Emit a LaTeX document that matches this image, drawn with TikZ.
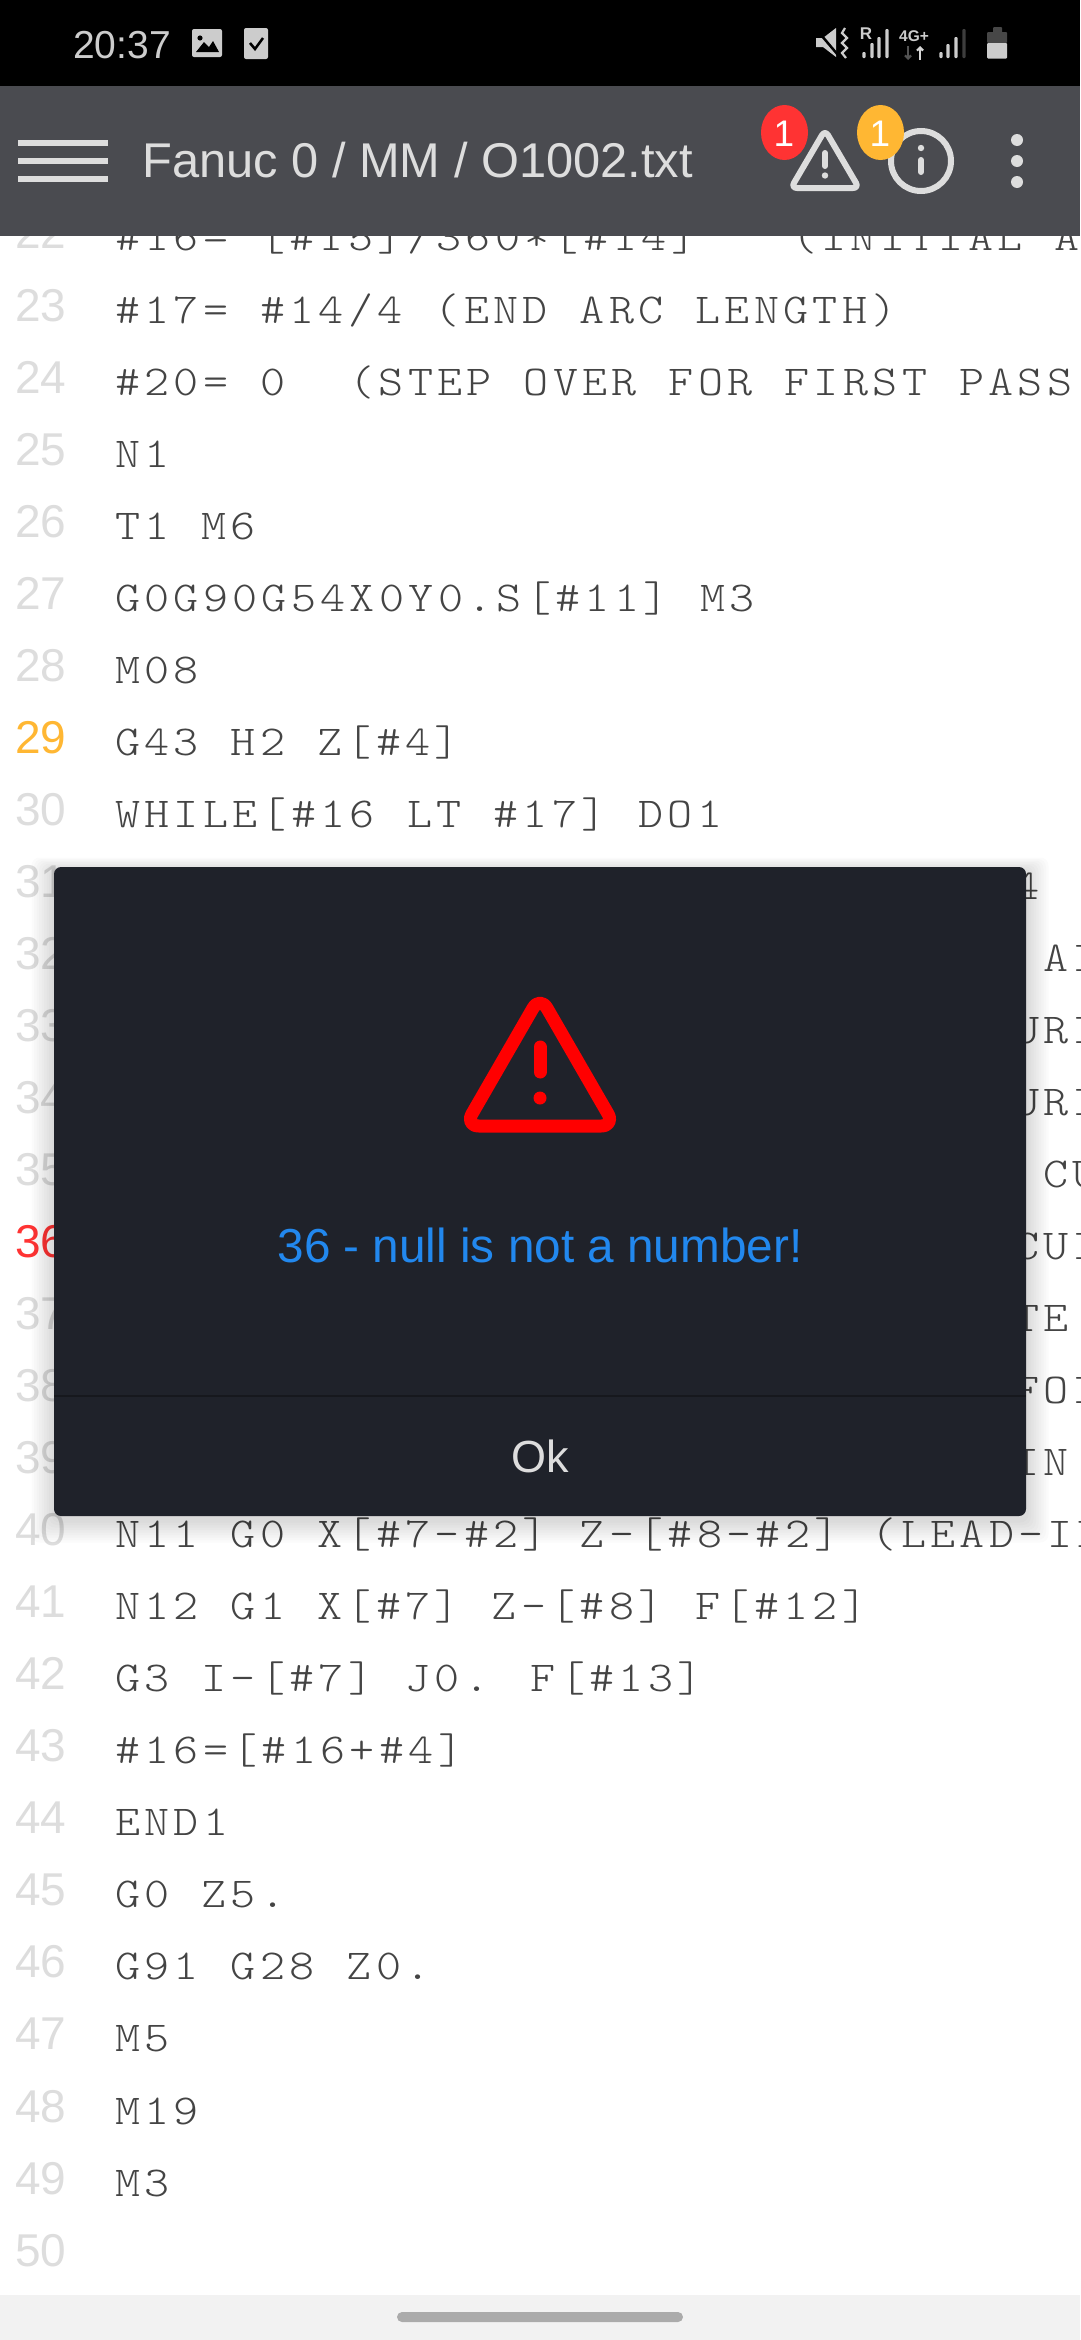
\documentclass[tikz,border=0pt]{standalone}
\usepackage{fontspec}
\usetikzlibrary{arrows.meta}
\setmainfont{Liberation Sans}
\newfontfamily\codefont[LetterSpace=10.1,FakeStretch=1.12,WordSpace=1.09]{Latin Modern Mono Light}
\newfontfamily\uifont{Liberation Sans}
\definecolor{hdr}{HTML}{4A4B50}
\definecolor{dlg}{HTML}{1F222A}
\definecolor{ltg}{HTML}{DDDDDD}
\definecolor{stat}{HTML}{CCCCCC}
\definecolor{cod}{HTML}{444444}
\definecolor{warnred}{HTML}{FF3333}
\definecolor{warnor}{HTML}{FFB733}
\definecolor{msg}{HTML}{2288EE}
\tikzset{
  codetxt/.style={anchor=base west,inner sep=0pt,text=cod,font=\codefont\fontsize{42.6}{44}\selectfont},
  numtxt/.style={anchor=base west,inner sep=0pt,text=ltg,font=\uifont\fontsize{46}{48}\selectfont},
  uitxt/.style={inner sep=0pt,font=\uifont\fontsize{45}{47}\selectfont},
  badge/.style={inner sep=0pt,text=white,font=\uifont\fontsize{37}{39}\selectfont,anchor=base},
}
\newcommand\cl[2]{\node[codetxt] (c#1) at (115,{323+72.04*(#1-23)}) {#2};}
\newcommand\cx[3]{\node[codetxt] (x#1) at ({115+29*#2},{323+72.04*(#1-23)}) {#3};}
\begin{document}
\begin{tikzpicture}[x=1pt,y=-1pt]
\useasboundingbox (0,0) rectangle (1080,2340);
\fill[white] (0,0) rectangle (1080,2340);
% line numbers
\foreach \n in {22,...,50}{
  \pgfmathsetmacro\yy{321+72.04*(\n-23)}
  \ifnum\n=29 \def\cc{warnor}\else\ifnum\n=36 \def\cc{warnred}\else\def\cc{ltg}\fi\fi
  \node[numtxt,text=\cc] (n\n) at (15,\yy) {\n};
}
% code
\cl{22}{\#16= [\#15]/360*[\#14]\ \ \ (INITIAL AI}
\cl{23}{\#17= \#14/4 (END ARC LENGTH)}
\cl{24}{\#20= 0\ \ (STEP OVER FOR FIRST PASS}
\cl{25}{N1}
\cl{26}{T1 M6}
\cl{27}{G0G90G54X0Y0.S[\#11] M3}
\cl{28}{M08}
\cl{29}{G43 H2 Z[\#4]}
\cl{30}{WHILE[\#16 LT \#17] DO1}
\cx{31}{31}{4}
\cx{32}{32}{AI}
\cx{33}{31}{URI}
\cx{34}{31}{URI}
\cx{35}{32}{CU}
\cx{36}{31}{CUI}
\cx{37}{31}{TE}
\cx{38}{31}{FOI}
\cx{39}{31}{IN}
\cl{40}{N11 G0 X[\#7-\#2] Z-[\#8-\#2] (LEAD-IN}
\cl{41}{N12 G1 X[\#7] Z-[\#8] F[\#12]}
\cl{42}{G3 I-[\#7] J0. F[\#13]}
\cl{43}{\#16=[\#16+\#4]}
\cl{44}{END1}
\cl{45}{G0 Z5.}
\cl{46}{G91 G28 Z0.}
\cl{47}{M5}
\cl{48}{M19}
\cl{49}{M3}
% bottom nav
\fill[white!95!black] (0,2295) rectangle (1080,2340);
\fill[black!33,rounded corners=5pt] (397,2312) rectangle (683,2322);
% status bar and header
\fill[black] (0,0) rectangle (1080,86);
\fill[hdr] (0,86) rectangle (1080,236);
\node[anchor=base west,inner sep=0pt,text=stat,font=\uifont\fontsize{39}{41}\selectfont] (time) at (73,58) {20:37};
% image icon
\fill[stat,rounded corners=2pt] (192,29) rectangle (222,57);
\fill[black] (196,52) -- (204,42) -- (209,47) -- (213,41) -- (219,52) -- cycle;
\fill[black] (200,38) circle (2.6);
% check icon
\fill[stat,rounded corners=2pt] (244,28) rectangle (268,59);
\draw[black,line width=2.5pt] (250,43) -- (255,49) -- (263,38);
% mute/vibrate
\fill[stat] (816,38) -- (823,38) -- (836,28) -- (836,57) -- (823,47) -- (816,47) -- cycle;
\draw[black,line width=2.5pt] (816,29) -- (838,55);
\draw[stat,line width=2.2pt] (845,28) -- (842,33) -- (847,38) -- (842,43) -- (847,48) -- (842,53) -- (846,58);
% signal 1
\node[inner sep=0pt,text=stat,font=\uifont\bfseries\fontsize{17}{18}\selectfont] (sR) at (866,34) {R};
\foreach \x/\t in {864/52,872/43,879/37,887/29}{\fill[stat,rounded corners=1pt] (\x-1.6,\t) rectangle (\x+1.6,58);}
% 4G+
\node[inner sep=0pt,text=stat,font=\uifont\bfseries\fontsize{15.5}{17}\selectfont] (sG) at (914,36) {4G+};
\draw[black!60!stat,line width=2.2pt,-{Straight Barb[length=3pt,width=6pt]}] (908,46) -- (908,60);
\draw[stat!80,line width=2.2pt,-{Straight Barb[length=3pt,width=6pt]}] (920,60) -- (920,46);
% signal 2
\foreach \x/\t/\c in {941/52/stat,948/44/stat,956/37/stat,964/29/black!70!stat}{\fill[\c,rounded corners=1pt] (\x-1.6,\t) rectangle (\x+1.6,58);}
% battery
\fill[black!65!stat,rounded corners=1pt] (993,27) rectangle (1002,33);
\fill[black!65!stat,rounded corners=1pt] (987,32) rectangle (1007,43);
\fill[stat,rounded corners=1pt] (987,43) rectangle (1007,58.5);
% hamburger
\foreach \y in {140,158,176}{\fill[ltg] (18,\y) rectangle (108,\y+6);}
\node[anchor=base west,uitxt,text=ltg,font=\uifont\fontsize{48.8}{50}\selectfont] (title) at (142,177) {Fanuc 0 / MM / O1002.txt};
% warning icon small
\draw[ltg,line width=6pt,rounded corners=6pt,line join=round] (825,130) -- (859,188) -- (791,188) -- cycle;
\draw[ltg,line width=6pt,line cap=round] (825,153) -- (825,166);
\fill[ltg] (825,175.5) circle (3.2);
% info
\draw[ltg,line width=6pt] (921,161) circle (30);
\fill[ltg] (921,148) circle (3.2);
\draw[ltg,line width=6pt,line cap=round] (921,160) -- (921,172);
% dots
\foreach \y in {140,161,182}{\fill[ltg] (1017,\y) circle (6);}
% badges
\fill[warnred] (784.5,132.5) ellipse (23.5 and 27.5);
\node[badge] (b1) at (784,146) {1};
\fill[warnor] (880.5,132.5) ellipse (23.5 and 27.5);
\node[badge] (b2) at (880,146) {1};
% dialog shadow
\foreach \i in {1,...,9}{\fill[black,opacity=.014,rounded corners=8pt] (54-2.5*\i,867-1.5*\i+4) rectangle (1026+2.5*\i,1516+2.5*\i+4);}
\fill[dlg,rounded corners=7pt] (54,867) rectangle (1026,1516);
\draw[black!30!dlg,line width=1.2pt] (54,1396) -- (1026,1396);
% big warning
\draw[red,line width=13pt,rounded corners=14pt,line join=round] (540,996) -- (615,1126) -- (465,1126) -- cycle;
\draw[red,line width=13pt,line cap=round] (540,1047) -- (540,1072);
\fill[red] (540,1098) circle (6.5);
\node[anchor=base,uitxt,text=msg,font=\uifont\fontsize{47.7}{50}\selectfont] (msgt) at (540,1262) {36 - null is not a number!};
\node[anchor=base,uitxt,text=ltg] (ok) at (540,1472) {Ok};
\end{tikzpicture}
\end{document}
